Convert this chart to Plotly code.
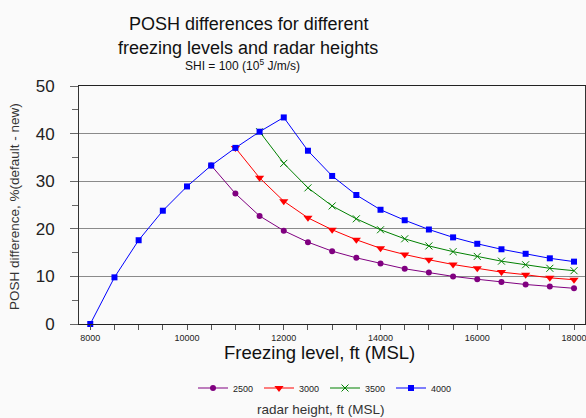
import plotly.graph_objects as go

# ---- data ----
freezing_all = [8000, 8500, 9000, 9500, 10000, 10500, 11000, 11500, 12000, 12500,
                13000, 13500, 14000, 14500, 15000, 15500, 16000, 16500, 17000, 17500, 18000]
posh_4000 = [0, 9.8, 17.6, 23.8, 28.9, 33.3, 37.0, 40.4, 43.4, 36.4,
             31.1, 27.1, 24.0, 21.8, 19.85, 18.2, 16.85, 15.7, 14.75, 13.8, 13.1]

freezing_3500 = [11500, 12000, 12500, 13000, 13500, 14000, 14500, 15000, 15500,
                 16000, 16500, 17000, 17500, 18000]
posh_3500 = [40.4, 33.75, 28.6, 24.8, 22.1, 19.8, 17.9, 16.4, 15.2, 14.2, 13.2, 12.45, 11.7, 11.2]

freezing_3000 = [11000, 11500, 12000, 12500, 13000, 13500, 14000, 14500, 15000, 15500,
                 16000, 16500, 17000, 17500, 18000]
posh_3000 = [37.0, 30.7, 25.8, 22.3, 19.8, 17.7, 15.9, 14.6, 13.5, 12.5, 11.7, 10.9, 10.35, 9.7, 9.3]

freezing_2500 = [10500, 11000, 11500, 12000, 12500, 13000, 13500, 14000, 14500, 15000,
                 15500, 16000, 16500, 17000, 17500, 18000]
posh_2500 = [33.3, 27.4, 22.7, 19.6, 17.2, 15.3, 13.9, 12.7, 11.6, 10.8, 10.0, 9.4, 8.8, 8.3, 7.9, 7.5]

x_tick_vals = [8000, 10000, 12000, 14000, 16000, 18000]
x_tick_text = ["8000", "10000", "12000", "14000", "16000", "18000"]
y_tick_vals = [0, 10, 20, 30, 40, 50]

# ---- layout helpers ----
W, H = 586, 418
L, R, T, B = 79, 1, 86, 94
PW, PH = W - L - R, H - T - B

def px(xp):
    return (xp - L) / PW

def py(yp):
    return (H - B - yp) / PH

FONT = "Liberation Sans, Arial, sans-serif"

fig = go.Figure()
series = [
    ("2500", freezing_2500, posh_2500, "#800080", dict(symbol="circle", size=6)),
    ("3000", freezing_3000, posh_3000, "#ff0000", dict(symbol="triangle-down", size=8)),
    ("3500", freezing_3500, posh_3500, "#008000", dict(symbol="x-thin", size=7, line=dict(width=1, color="#008000"))),
    ("4000", freezing_all, posh_4000, "#0000ff", dict(symbol="square", size=6)),
]
for name, xs, ys, col, mk in series:
    fig.add_trace(go.Scatter(
        x=xs, y=ys, name=name, mode="lines+markers",
        line=dict(color=col, width=1),
        marker=dict(color=col, **mk),
        cliponaxis=False,
    ))

fig.update_layout(
    width=W, height=H,
    margin=dict(l=L, r=R, t=T, b=B, autoexpand=False),
    paper_bgcolor="#fafafa", plot_bgcolor="#fafafa",
    font=dict(family=FONT, color="#111"),
    showlegend=True,
    legend=dict(orientation="h", x=px(193), y=py(388), xanchor="left", yanchor="middle",
                font=dict(size=9, color="#222"), bgcolor="rgba(0,0,0,0)",
                entrywidth=21, entrywidthmode="pixels", traceorder="normal"),
    xaxis=dict(range=[7767, 18227], showgrid=False, zeroline=False, automargin=False,
               showline=True, linecolor="#222", linewidth=1, mirror=True,
               tickmode="array", tickvals=x_tick_vals, ticktext=x_tick_text,
               ticklabeloverflow="allow",
               ticks="outside", ticklen=5, tickcolor="#555",
               minor=dict(tickmode="linear", tick0=8000, dtick=500, ticks="outside", ticklen=5, tickcolor="#555"),
               tickfont=dict(size=9, color="#222")),
    xaxis2=dict(range=[7767, 18227], overlaying="x", anchor="y", side="bottom",
                showgrid=False, zeroline=False, showline=False, showticklabels=False,
                automargin=False,
                tickmode="linear", tick0=8000, dtick=500,
                ticks="inside", ticklen=5, tickcolor="#555"),
    yaxis=dict(range=[0, 50], showgrid=True, gridcolor="#8a8a8a", gridwidth=1, zeroline=False,
               showline=True, linecolor="#333", linewidth=1, mirror=True, automargin=False,
               tickmode="array", tickvals=y_tick_vals,
               ticks="outside", ticklen=8, tickcolor="#666",
               minor=dict(tickmode="linear", tick0=0, dtick=5, ticks="outside", ticklen=6, tickcolor="#666"),
               ticklabelstandoff=12,
               tickfont=dict(size=17, color="#222")),
)

ann = [
    dict(text="POSH differences for different", x=px(248), y=py(23.5), size=18, color="#111"),
    dict(text="freezing levels and radar heights", x=px(248), y=py(48.5), size=18, color="#111"),
    dict(text="SHI = 100 (10<sup>5</sup> J/m/s)", x=px(242), y=py(65), size=12, color="#111"),
    dict(text="Freezing level, ft (MSL)", x=px(319), y=py(352.5), size=18.5, color="#111"),
    dict(text="radar height, ft (MSL)", x=px(321), y=py(409), size=13.5, color="#333"),
]
for a in ann:
    fig.add_annotation(text=a["text"], x=a["x"], y=a["y"], xref="paper", yref="paper",
                       xanchor="center", yanchor="middle", showarrow=False,
                       font=dict(size=a["size"], color=a["color"], family=FONT))
fig.add_annotation(text="POSH difference, %(default - new)", x=px(14), y=py(207),
                   xref="paper", yref="paper", xanchor="center", yanchor="middle",
                   textangle=-90, showarrow=False,
                   font=dict(size=13.5, color="#333", family=FONT))

fig.write_html("out.html", config={"displayModeBar": False},
               post_script="document.body.style.margin='0';document.body.style.background='#fafafa';")
